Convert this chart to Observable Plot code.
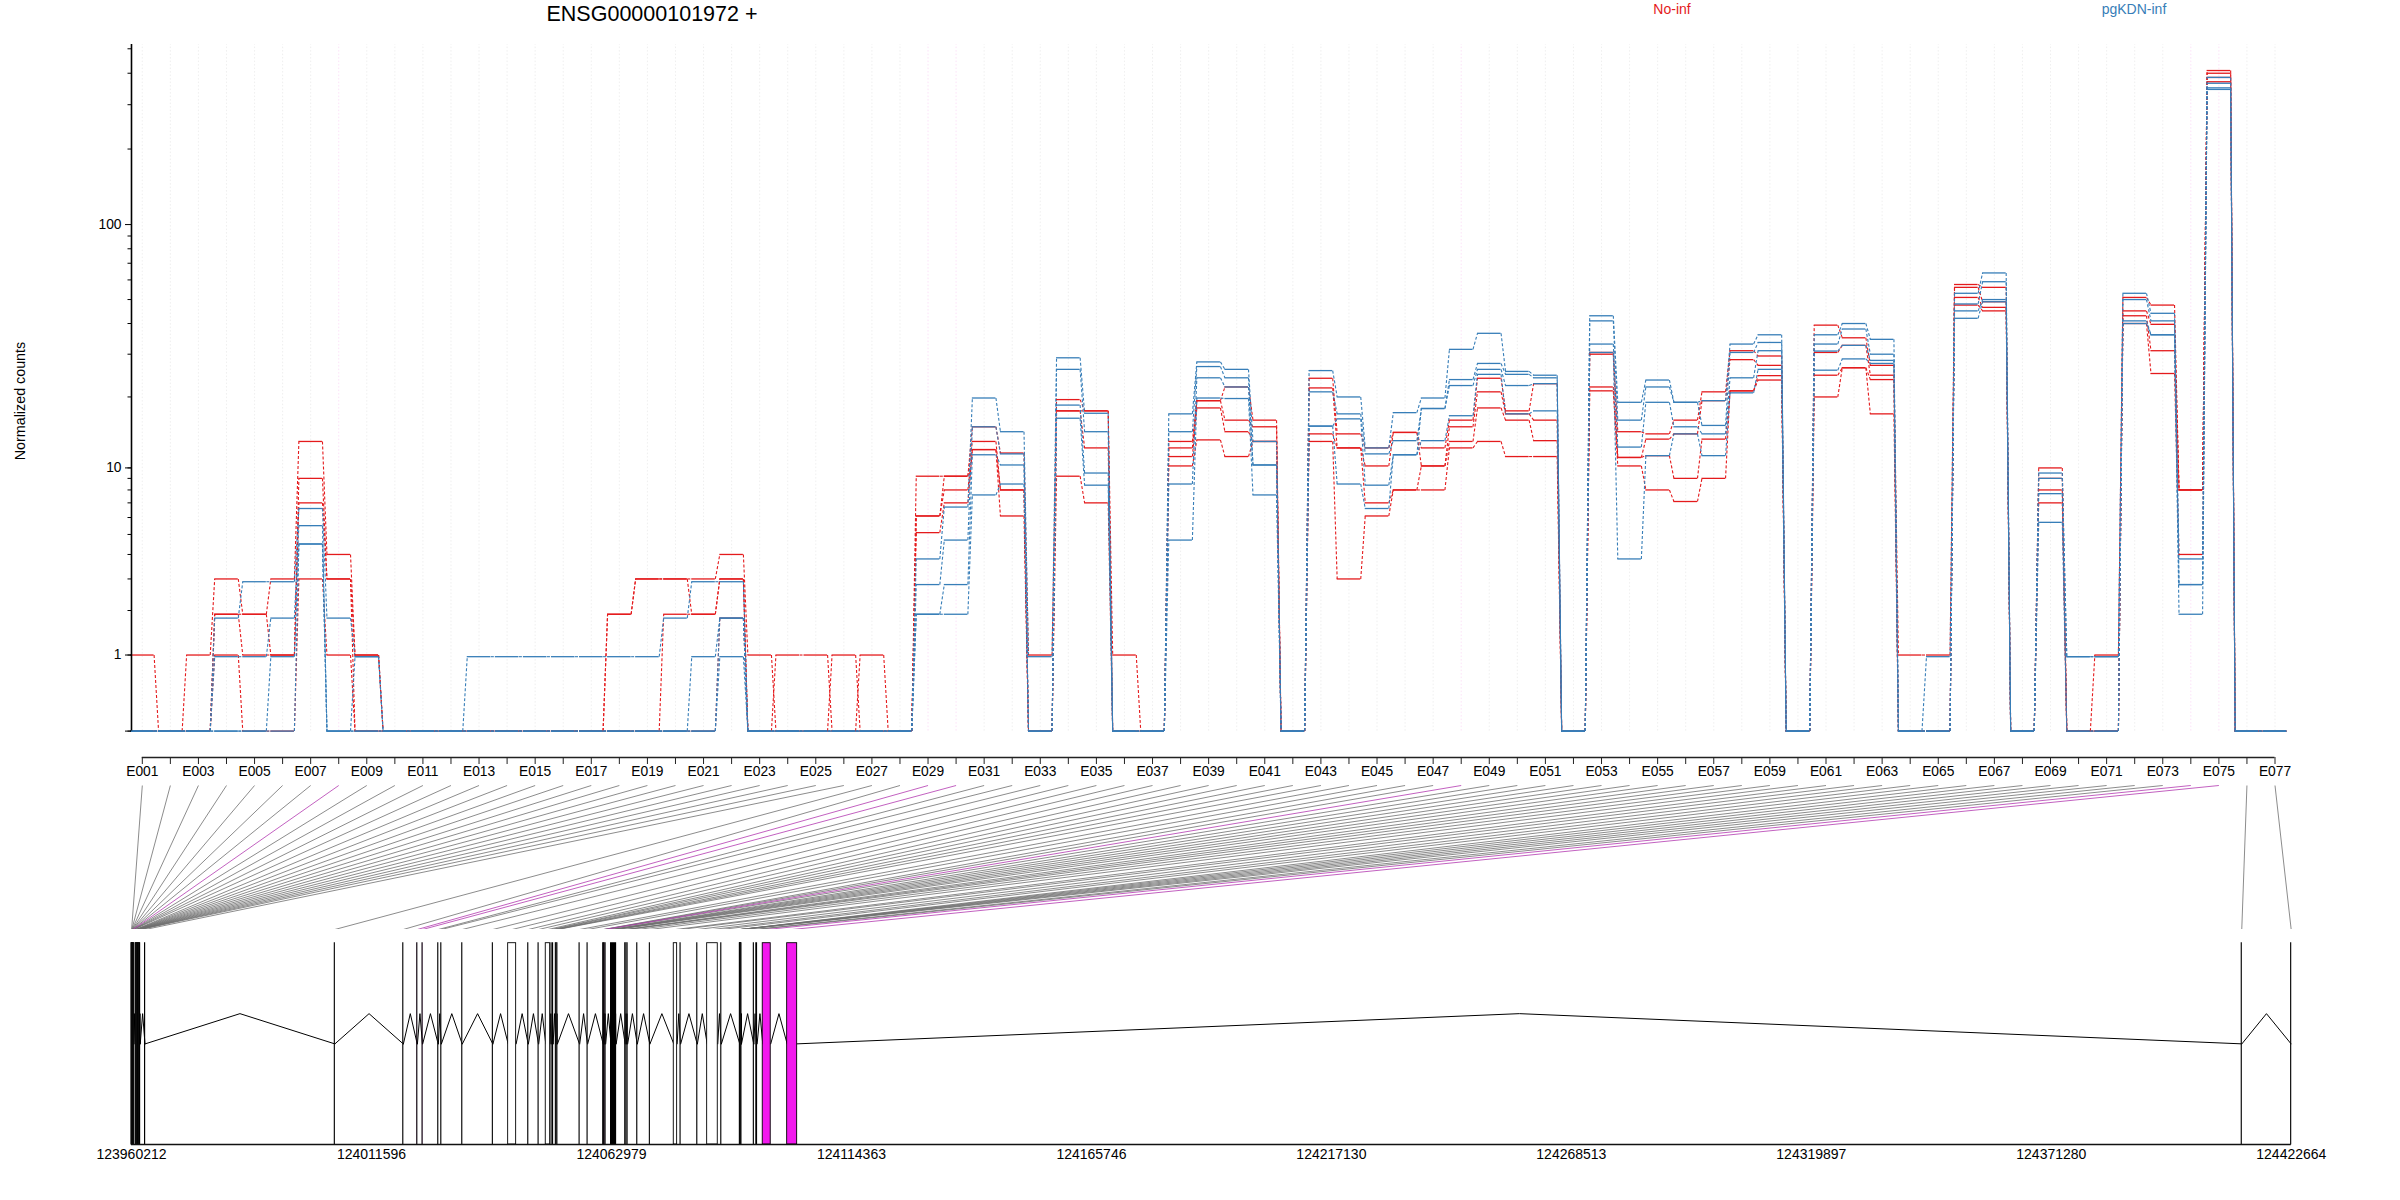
<!DOCTYPE html>
<html><head><meta charset="utf-8">
<style>
html,body{margin:0;padding:0;background:#fff;width:2400px;height:1200px;overflow:hidden}
#wrap{position:relative;width:2400px;height:1200px;font-family:"Liberation Sans",Arial,sans-serif}
#wrap svg{display:block;background:transparent}
.lab{position:absolute;white-space:nowrap;transform:translate(-50%,-50%);line-height:1}
</style>
<script src="https://cdn.jsdelivr.net/npm/d3@7"></script>
<script src="https://cdn.jsdelivr.net/npm/@observablehq/plot@0.6"></script>
</head><body><div id="wrap">
<div class="lab" style="left:652px;top:15px;font-size:21.5px;color:#000">ENSG00000101972 +</div>
<div class="lab" style="left:1672px;top:9px;font-size:14px;color:#e41a1c">No-inf</div>
<div class="lab" style="left:2134px;top:9px;font-size:14px;color:#377eb8">pgKDN-inf</div>
<div class="lab" style="left:20px;top:401px;font-size:14.3px;transform:translate(-50%,-50%) rotate(-90deg)">Normalized counts</div>
</div>
<script>
const exonNames = d3.range(1,78).map(i => "E" + String(i).padStart(3,"0"));
const flagged = [8,29,30,48,74,75];

const noInf1 = [1,0,1,3,1.9,3,13,4,1,0,0,0,0,0,0,0,0,1.9,3,3,3,4,1,0,0,0,0,0,9.2,9.2,15,11.6,1,19.5,17.5,1,0,13,19.3,22,16,0,23.9,14,12.2,14.2,12.2,16,23.9,17.5,22.7,0,30.5,14.3,14,16,21,31,29.5,0,39.4,35,27,1,1,57.5,56,0,10,0,1,51,47.5,8,410,0,0];
const noInf2 = [0,0,0,1.9,1.9,1,9,3,1,0,0,0,0,0,0,0,0,1.9,3,3,1.9,3,0,1,1,0,0,0,6.1,9.2,13,8,0,17.5,17.5,0,0,12.2,19.3,16,15,0,21.8,12.2,10.2,14.2,10.2,15,21,17,16,0,30,11.1,13.3,14,19.3,28.5,27,0,30.5,32.6,24.6,0,0,56,49,0,9,0,0,45,39.7,8,400,0,0];
const noInf3 = [0,0,0,1.9,1,1,7,3,0,0,0,0,0,0,0,0,0,0,0,1.9,1.9,3,0,0,0,1,0,0,6.1,8,12,8,0,17.5,12.2,0,0,11.2,18,14.3,13,0,14,12.2,7,8,10.2,13,18,16,13.1,0,22,11.1,11.3,9,13.3,21.2,24.5,0,24.6,26.4,23.6,0,0,51,46.5,0,8,0,0,43,31,8,385,0,0];
const noInf4 = [0,0,0,1,0,0,3,1,0,0,0,0,0,0,0,0,0,0,0,0,0,1.8,0,0,0,0,1,0,5.1,7,12,6.1,0,9.2,7,0,0,10.2,13.2,11.2,13,0,13,3,6.1,8,8,12.2,13,11.2,11.2,0,21.2,10.2,8,7.1,9,21.2,23.5,0,20,26.4,17,0,0,47.5,45,0,7,0,0,40,25,4,370,0,0];
const kdn1 = [0,0,0,1.8,2.9,2.9,6.6,1.8,.97,0,0,0,.97,.97,.97,.97,.97,.97,.97,1.8,2.9,2.9,0,0,0,0,0,0,3.8,6.7,19.8,14.3,.97,29,17.1,0,0,17,27.9,26,13,0,25.7,20,12.2,17.2,19.8,31.4,36.5,25.5,24.6,0,43,19,23.5,19,19.3,33,36,0,36,40,34.5,0,.97,53,64,0,9.5,.97,.97,53,44,3.8,385,0,0];
const kdn2 = [0,0,0,.97,.97,1.8,5.5,0,.97,0,0,0,0,0,0,0,0,0,0,0,.97,1.8,0,0,0,0,0,0,2.8,4.7,15,11.5,0,26,14.3,0,0,14.3,26.7,24,10.3,0,21,17,11.5,13.1,17.9,23.6,27.5,24.8,24,0,41,16,22,19,15.2,30.5,33.5,0,33,38,30,0,0,48,59,0,9,.97,.97,50,41,2.8,365,0,0];
const kdn3 = [0,0,0,0,0,.97,4.5,0,0,0,0,0,0,0,0,0,0,0,0,0,0,1.8,0,0,0,0,0,0,1.9,2.8,11.4,10.3,0,18.5,9.5,0,0,8.5,24,22,10.3,0,15.1,16.2,8.4,11.4,17.9,22.3,26,22.3,22.7,0,33,12.3,19,15,14,24,31,0,30.9,32.6,28.3,0,0,45,50,0,7.7,0,0,41,36,2.8,350,0,0];
const kdn4 = [0,0,0,0,0,0,4.5,0,0,0,0,0,0,0,0,0,0,0,0,0,0,.97,0,0,0,0,0,0,1.9,1.9,7.6,8.5,0,16.3,8.4,0,0,4.7,19.8,19.7,7.6,0,15.1,8.5,6.6,11.4,13.1,16.7,24.8,17,17.5,0,30.5,3.8,11.3,14,11.3,20.8,26,0,25.8,28.7,27.5,0,0,42,49,0,5.7,0,0,40,36,1.9,345,0,0];

// exon starts, kb from the gene start, read from the gene model
const exonStartKb = [0,.04,.09,.13,.17,.21,.26,.3,.34,.39,.43,.47,.86,.94,1.03,1.09,1.18,1.26,1.35,1.41,1.5,1.58,1.67,1.73,1.82,2.89,43.51,58.17,61.17,62.3,65.66,66.31,70.8,77.35,80.65,84.93,87.14,88.7,89.92,90.24,90.84,90.99,91.16,95.92,97.63,100.99,101.12,101.27,101.48,102.66,102.87,103.09,103.3,103.52,103.73,105.7,105.94,106.19,108.27,110.97,116.11,117.54,121.12,123.26,126.26,130.24,130.3,130.37,130.43,130.49,130.56,133.23,133.77,135.16,140.39,451.82,462.4];
const wideExons = new Map([[35,1.71],[38,.94],[61,.72],[64,2.27],[73,.19],[74,1.71],[75,2.14]]);
const thinExonKb = 0.05;
const geneStart = 123960212;
const genomicTicks = [123960212,124011596,124062979,124114363,124165746,124217130,124268513,124319897,124371280,124422664];

const RED="#e41a1c", BLUE="#377eb8", MAG="#F219ED";
const idx = exonNames.map((_,i)=>i+1);
const half = 0.42;
const series = [[noInf1,RED],[noInf2,RED],[noInf3,RED],[noInf4,RED],[kdn1,BLUE],[kdn2,BLUE],[kdn3,BLUE],[kdn4,BLUE]];
const segs = series.flatMap(([vals,color],s)=>vals.map((v,i)=>({s,color,i:i+1,v,next:vals[i+1]})));
const links = segs.filter(d=>d.i<77);

const xRange=[141.8,2274.5];
const main = Plot.plot({
  width:2400,height:785,marginLeft:131,marginRight:113,marginTop:44,marginBottom:28,
  style:{fontFamily:"Liberation Sans",fontSize:"13.8px",background:"transparent"},
  x:{domain:[1,77],range:xRange,axis:null},
  y:{type:"symlog",constant:1,domain:[0,520],range:[730.6,44],axis:null},
  marks:[
    Plot.ruleX(idx.filter(i=>!flagged.includes(i)),{y1:0,y2:520,stroke:"#e8e8e8",strokeWidth:.7,strokeDasharray:"1.5,2"}),
    Plot.ruleX(flagged,{y1:0,y2:520,stroke:"#fad5f5",strokeWidth:.7,strokeDasharray:"1.5,2"}),
    Plot.link(links,{x1:d=>d.i+half,y1:"v",x2:d=>d.i+1-half,y2:"next",stroke:"color",strokeWidth:1.1,strokeDasharray:"3,2"}),
    Plot.ruleY(segs,{x1:d=>d.i-half,x2:d=>d.i+half,y:"v",stroke:"color",strokeWidth:1.3}),
    Plot.ruleX([0.615],{y1:0,y2:520,stroke:"#000",strokeWidth:1.6}),
    Plot.axisY({ticks:[0,1,2,3,4,5,6,7,8,9,10,20,30,40,50,60,70,80,90,200,300,400,500],tickSize:3.5,tickFormat:()=>"",label:null,stroke:"#000"}),
    Plot.axisY({ticks:[0,1,10,100],tickSize:6,tickPadding:4,tickFormat:d=>d===0?"":d,label:null,fontSize:13.8,fill:"#000",stroke:"#000"}),
    Plot.ruleY([0],{x1:1,x2:77,dy:26.4,stroke:"#222",strokeWidth:1.6}),
    Plot.axisX({ticks:idx,tickSize:7,tickPadding:2,tickFormat:i=>i%2?exonNames[i-1]:"",label:null,fontSize:13.8,fill:"#000",stroke:"#222"})
  ]
});

const midG = (i)=>geneStart+(exonStartKb[i-1]+(wideExons.get(i)||thinExonKb)/2)*1000;
const gx = d3.scaleLinear().domain([geneStart,genomicTicks[9]]).range([131,2290.8]);
const pxToG = gx.invert;
const idxPx = d3.scaleLinear().domain([1,77]).range(xRange);
const fanRows = idx.map(i=>({i,top:pxToG(idxPx(i)),bottom:midG(i),on:flagged.includes(i)}));
const fan = Plot.plot({
  width:2400,height:144,margin:0,marginLeft:131,marginRight:109.2,
  style:{background:"transparent"},
  x:{domain:[geneStart,genomicTicks[9]],range:[131,2290.8],axis:null},
  y:{domain:[0,1],range:[144,0],axis:null},
  marks:[
    Plot.link(fanRows.filter(d=>!d.on),{x1:"top",y1:()=>1,x2:"bottom",y2:()=>0,stroke:"#6e6e6e",strokeWidth:.8}),
    Plot.link(fanRows.filter(d=>d.on),{x1:"top",y1:()=>1,x2:"bottom",y2:()=>0,stroke:"#b238b0",strokeWidth:.8})
  ]
});

const exons = idx.map(i=>{const s=geneStart+exonStartKb[i-1]*1000,w=(wideExons.get(i)||thinExonKb)*1000;return {i,s,e:s+w,fill:flagged.includes(i)?MAG:"#fff"};});
const baseFrac=.5, peakFrac=.65;
const introns = exons.slice(0,-1).flatMap((d,k)=>{const n=exons[k+1];return [
  {k,x:d.e,y:baseFrac},{k,x:(d.e+n.s)/2,y:peakFrac},{k,x:n.s,y:baseFrac}];});
const model = Plot.plot({
  width:2400,height:271,marginLeft:131,marginRight:109.2,marginTop:14,marginBottom:56,
  style:{fontFamily:"Liberation Sans",fontSize:"13.8px",background:"transparent"},
  x:{domain:[geneStart,genomicTicks[9]],range:[131,2290.8],axis:null},
  y:{domain:[0,1],range:[215,13.7],axis:null},
  marks:[
    Plot.line(introns,{x:"x",y:"y",z:"k",stroke:"#000",strokeWidth:1}),
    Plot.rectY(exons,{x1:"s",x2:"e",y1:()=>0,y2:()=>1,fill:"fill",stroke:"#000",strokeWidth:.9}),
    Plot.ruleY([0],{x1:geneStart,x2:genomicTicks[9],stroke:"#111",strokeWidth:1.6}),
    Plot.axisX({ticks:genomicTicks,tickSize:0,tickPadding:5,tickFormat:d=>String(d),label:null,fontSize:14,fill:"#000",stroke:"none"})
  ]
});

const wrap=document.getElementById("wrap");
[main,fan,model].forEach(s=>wrap.appendChild(s));
</script>
</body></html>
